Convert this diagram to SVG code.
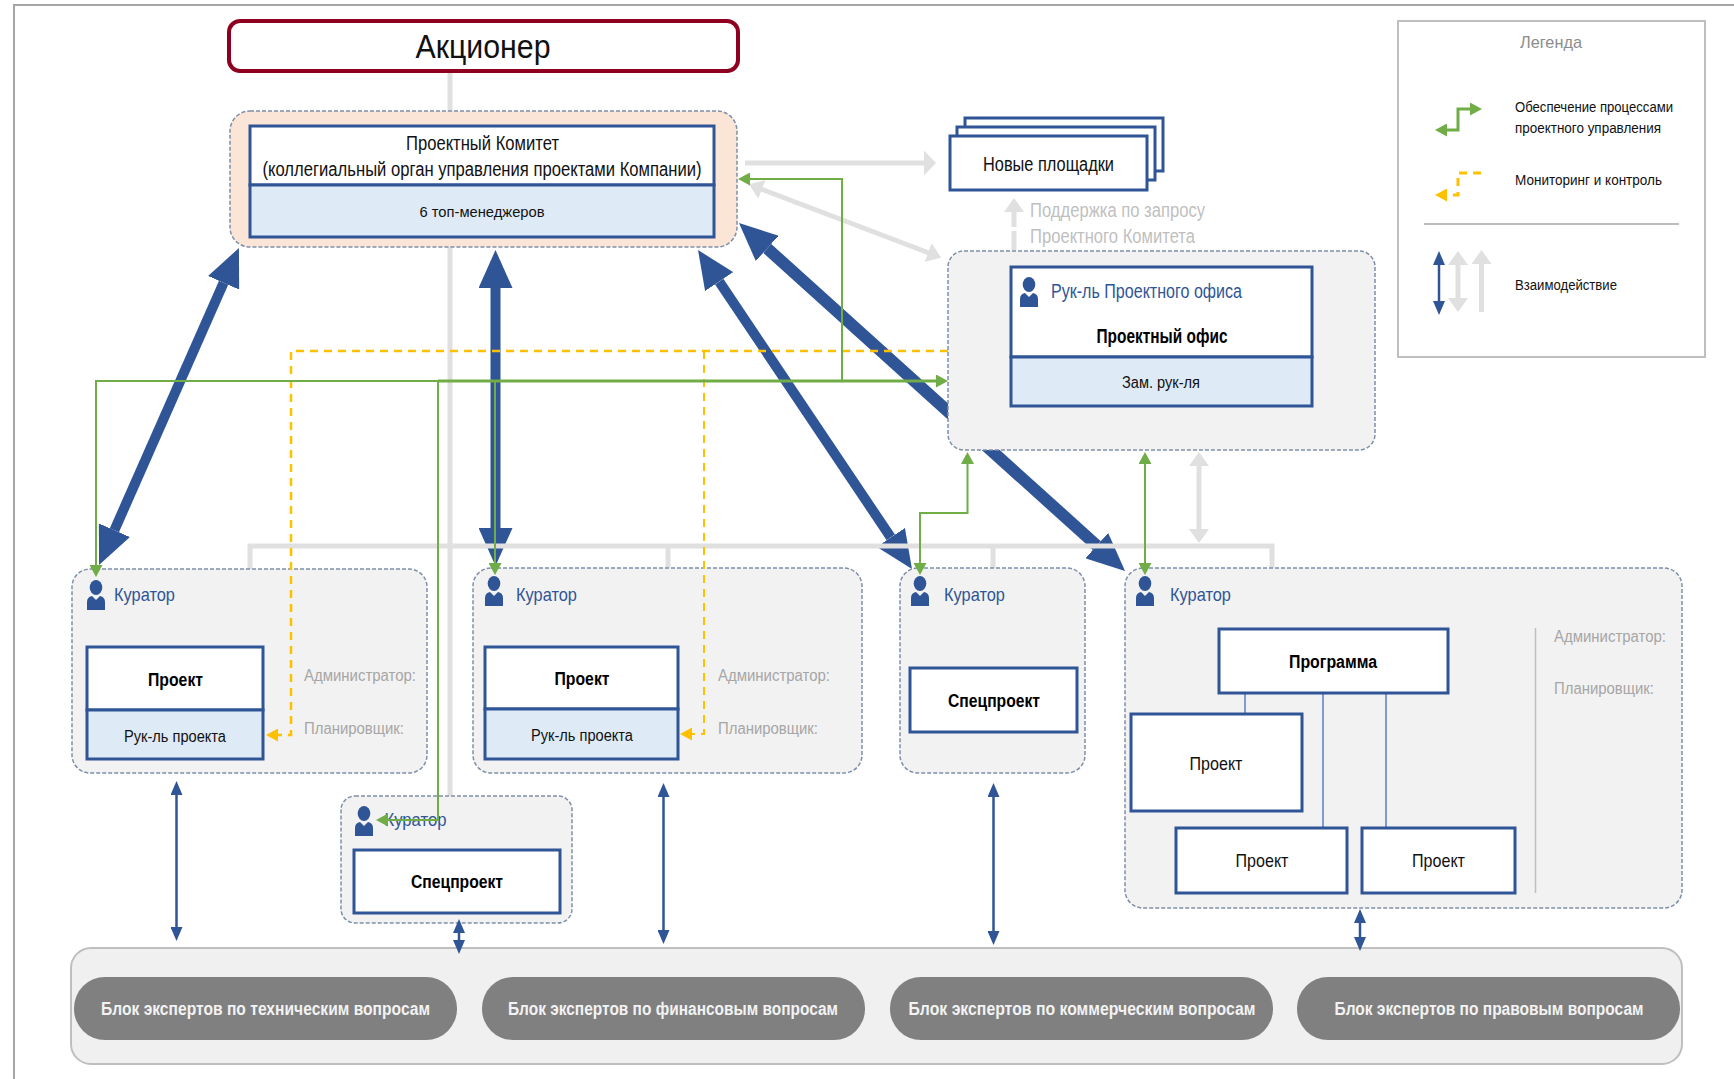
<svg xmlns="http://www.w3.org/2000/svg" xmlns:xlink="http://www.w3.org/1999/xlink" width="1734" height="1079" viewBox="0 0 1734 1079">
<style>
text{font-family:"Liberation Sans",Arial,sans-serif;fill:#111}
.c{text-anchor:middle}
.b{font-weight:bold;fill:#000}
.blue{fill:#2f5597}
.gt{fill:#a6a6a6}
.lt{fill:#bfbfbf}
.w{fill:#f2f2f2;font-weight:bold}
.box{fill:#fff;stroke:#2f5597;stroke-width:3}
.sub{fill:#deeaf6;stroke:#2f5597;stroke-width:3}
.zone{fill:#f2f2f2;stroke:#7f8fa9;stroke-width:1.5;stroke-dasharray:4 2}
.pill{fill:#808080}
.th{fill:none;stroke:#2f5597;stroke-width:10}
.sb{fill:none;stroke:#2f5597;stroke-width:2.5;marker-start:url(#mS);marker-end:url(#mS)}
.gl{fill:none;stroke:#e0e0e0;stroke-width:5}
.gr{fill:none;stroke:#70ad47;stroke-width:2}
.ye{fill:none;stroke:#ffc000;stroke-width:2;stroke-dasharray:8 6;marker-end:url(#mY)}
.tl{fill:none;stroke:#5b80c0;stroke-width:1.5}
</style>
<defs>
<marker id="mT" markerUnits="userSpaceOnUse" viewBox="0 0 38 34" markerWidth="38" markerHeight="34" refX="0" refY="17" orient="auto-start-reverse"><path d="M0 0L38 17L0 34Z" fill="#2f5597"/></marker>
<marker id="mS" markerUnits="userSpaceOnUse" viewBox="0 0 14 12" markerWidth="14" markerHeight="12" refX="1" refY="6" orient="auto-start-reverse"><path d="M0 0L14 6L0 12Z" fill="#2f5597"/></marker>
<marker id="mG" markerUnits="userSpaceOnUse" viewBox="0 0 12 13" markerWidth="12" markerHeight="13" refX="1" refY="6.5" orient="auto-start-reverse"><path d="M0 0L12 6.5L0 13Z" fill="#70ad47"/></marker>
<marker id="mY" markerUnits="userSpaceOnUse" viewBox="0 0 12 13" markerWidth="12" markerHeight="13" refX="1" refY="6.5" orient="auto-start-reverse"><path d="M0 0L12 6.5L0 13Z" fill="#ffc000"/></marker>
<marker id="mL" markerUnits="userSpaceOnUse" viewBox="0 0 14 20" markerWidth="14" markerHeight="20" refX="1" refY="10" orient="auto-start-reverse"><path d="M0 0L14 10L0 20Z" fill="#e0e0e0"/></marker>
<marker id="mH" markerUnits="userSpaceOnUse" viewBox="0 0 12 25" markerWidth="12" markerHeight="25" refX="1" refY="12.5" orient="auto-start-reverse"><path d="M0 0L12 12.5L0 25Z" fill="#e0e0e0"/></marker>
<g id="person"><ellipse cx="0" cy="7.5" rx="6.3" ry="7.5" fill="#2f5597"/><path d="M-9 30V22Q-9 17 -4 16L0 20L4 16Q9 17 9 22V30Z" fill="#2f5597"/></g>
</defs>
<rect width="1734" height="1079" fill="#fff"/>
<path d="M14 1079V5H1734" fill="none" stroke="#a6a6a6" stroke-width="2"/>

<g id="connectors-back">
<path class="th" d="M223.600 282.800L114.400 530.200" marker-start="url(#mT)" marker-end="url(#mT)"/>
<path class="th" d="M495.500 288V528" marker-start="url(#mT)" marker-end="url(#mT)"/>
<path class="th" d="M719.200 281.600L890.800 537.400" marker-start="url(#mT)" marker-end="url(#mT)"/>
<path class="th" style="stroke-width:12" d="M767.200 248.400L1096.800 545.600" marker-start="url(#mT)" marker-end="url(#mT)"/>
<path class="gl" d="M450 72V796M250 569V546H1272V569M668 546V568M993 546V568"/>
<path class="gl" d="M745 163H925" style="marker-end:url(#mH)"/>
<path class="gl" d="M761 189L929 253" style="marker-start:url(#mL);marker-end:url(#mL)"/>
<path class="gl" d="M1014 250V231M1014 227V211" style="marker-end:url(#mL)"/>
<path class="gl" d="M1199 465V530" style="marker-start:url(#mL);marker-end:url(#mL)"/>
</g>

<g id="node-shareholder">
<rect x="229" y="21" width="509" height="50" rx="11" fill="#fff" stroke="#8f0020" stroke-width="4"/>
<text class="c" x="483" y="58" font-size="33" textLength="135" lengthAdjust="spacingAndGlyphs">Акционер</text>
</g>

<g id="node-committee">
<rect class="zone" style="fill:#fbe5d6" x="230" y="111" width="507" height="136" rx="20"/>
<rect class="box" x="250" y="126" width="464" height="59"/>
<rect class="sub" x="250" y="185" width="464" height="52"/>
<text class="c" x="482.500" y="150" font-size="20" textLength="153" lengthAdjust="spacingAndGlyphs">Проектный Комитет</text>
<text class="c" x="482" y="176" font-size="20" textLength="439" lengthAdjust="spacingAndGlyphs">(коллегиальный орган управления проектами Компании)</text>
<text class="c" x="482" y="217" font-size="15" textLength="125" lengthAdjust="spacingAndGlyphs">6 топ-менеджеров</text>
</g>

<g id="node-new-sites">
<rect class="box" x="965" y="118" width="198" height="53"/>
<rect class="box" x="957" y="127" width="198" height="53"/>
<rect class="box" x="950" y="136" width="197" height="54"/>
<text class="c" x="1048.500" y="171" font-size="20" textLength="131" lengthAdjust="spacingAndGlyphs">Новые площадки</text>
</g>

<g id="label-support">
<text class="lt" x="1030" y="217" font-size="20" textLength="175" lengthAdjust="spacingAndGlyphs">Поддержка по запросу</text>
<text class="lt" x="1030" y="243" font-size="20" textLength="165" lengthAdjust="spacingAndGlyphs">Проектного Комитета</text>
</g>

<g id="node-project-office">
<rect class="zone" x="948" y="251" width="427" height="199" rx="16"/>
<rect class="box" x="1011" y="267" width="301" height="90"/>
<rect class="sub" x="1011" y="357" width="301" height="49"/>
<use href="#person" x="1029" y="277"/>
<text class="blue" x="1051" y="298" font-size="20" textLength="191" lengthAdjust="spacingAndGlyphs">Рук-ль Проектного офиса</text>
<text class="c b" x="1162" y="343" font-size="20" textLength="131" lengthAdjust="spacingAndGlyphs">Проектный офис</text>
<text class="c" x="1161" y="388" font-size="16" textLength="78" lengthAdjust="spacingAndGlyphs">Зам. рук-ля</text>
</g>

<g id="node-curator-1">
<rect class="zone" x="72" y="569" width="355" height="204" rx="18"/>
<use href="#person" x="96" y="580"/>
<text class="blue" x="114" y="601" font-size="19" textLength="61" lengthAdjust="spacingAndGlyphs">Куратор</text>
<rect class="box" x="87" y="647" width="176" height="63"/>
<rect class="sub" x="87" y="710" width="176" height="49"/>
<text class="c b" x="175.500" y="686" font-size="19" textLength="55" lengthAdjust="spacingAndGlyphs">Проект</text>
<text class="c" x="175" y="742" font-size="16" textLength="102" lengthAdjust="spacingAndGlyphs">Рук-ль проекта</text>
<text class="gt" x="304" y="681" font-size="16" textLength="112" lengthAdjust="spacingAndGlyphs">Администратор:</text>
<text class="gt" x="304" y="734" font-size="16" textLength="100" lengthAdjust="spacingAndGlyphs">Планировщик:</text>
</g>

<g id="node-curator-2">
<rect class="zone" x="473" y="568" width="389" height="205" rx="18"/>
<use href="#person" x="494" y="576"/>
<text class="blue" x="516" y="601" font-size="19" textLength="61" lengthAdjust="spacingAndGlyphs">Куратор</text>
<rect class="box" x="485" y="647" width="193" height="62"/>
<rect class="sub" x="485" y="709" width="193" height="50"/>
<text class="c b" x="582" y="685" font-size="19" textLength="55" lengthAdjust="spacingAndGlyphs">Проект</text>
<text class="c" x="582" y="741" font-size="16" textLength="102" lengthAdjust="spacingAndGlyphs">Рук-ль проекта</text>
<text class="gt" x="718" y="681" font-size="16" textLength="112" lengthAdjust="spacingAndGlyphs">Администратор:</text>
<text class="gt" x="718" y="734" font-size="16" textLength="100" lengthAdjust="spacingAndGlyphs">Планировщик:</text>
</g>

<g id="node-curator-special-1">
<rect class="zone" x="341" y="796" width="231" height="127" rx="14"/>
<use href="#person" x="364" y="806"/>
<text class="blue" x="384.500" y="826" font-size="19" textLength="62" lengthAdjust="spacingAndGlyphs">Куратор</text>
<rect class="box" x="354" y="850" width="206" height="63"/>
<text class="c b" x="457" y="888" font-size="19" textLength="92" lengthAdjust="spacingAndGlyphs">Спецпроект</text>
</g>

<g id="node-curator-special-2">
<rect class="zone" x="900" y="568" width="185" height="205" rx="18"/>
<use href="#person" x="920" y="576"/>
<text class="blue" x="944" y="601" font-size="19" textLength="61" lengthAdjust="spacingAndGlyphs">Куратор</text>
<rect class="box" x="910" y="668" width="167" height="64"/>
<text class="c b" x="994" y="707" font-size="19" textLength="92" lengthAdjust="spacingAndGlyphs">Спецпроект</text>
</g>

<g id="node-curator-program">
<rect class="zone" x="1125" y="568" width="557" height="340" rx="18"/>
<use href="#person" x="1145" y="576"/>
<text class="blue" x="1170" y="601" font-size="19" textLength="61" lengthAdjust="spacingAndGlyphs">Куратор</text>
<path class="tl" d="M1245 693V714M1323 693V828M1386 690V828"/>
<rect class="box" x="1219" y="629" width="229" height="64"/>
<text class="c b" x="1333" y="668" font-size="18" textLength="88" lengthAdjust="spacingAndGlyphs">Программа</text>
<rect class="box" x="1131" y="714" width="171" height="97"/>
<text class="c" x="1216" y="770" font-size="19" textLength="53" lengthAdjust="spacingAndGlyphs">Проект</text>
<rect class="box" x="1176" y="828" width="171" height="65"/>
<text class="c" x="1262" y="867" font-size="19" textLength="53" lengthAdjust="spacingAndGlyphs">Проект</text>
<rect class="box" x="1362" y="828" width="153" height="65"/>
<text class="c" x="1438.500" y="867" font-size="19" textLength="53" lengthAdjust="spacingAndGlyphs">Проект</text>
<path d="M1535.500 628V893" stroke="#bfbfbf" stroke-width="1.500" fill="none"/>
<text class="gt" x="1554" y="642" font-size="16" textLength="112" lengthAdjust="spacingAndGlyphs">Администратор:</text>
<text class="gt" x="1554" y="694" font-size="16" textLength="100" lengthAdjust="spacingAndGlyphs">Планировщик:</text>
</g>

<g id="node-experts">
<rect x="71" y="948" width="1611" height="116" rx="20" fill="#f0f0f0" stroke="#bfbfbf" stroke-width="2"/>
<rect class="pill" x="74" y="977" width="383" height="63" rx="31"/>
<text class="c w" x="265.500" y="1015" font-size="18" textLength="329" lengthAdjust="spacingAndGlyphs">Блок экспертов по техническим вопросам</text>
<rect class="pill" x="482" y="977" width="383" height="63" rx="31"/>
<text class="c w" x="673" y="1015" font-size="18" textLength="330" lengthAdjust="spacingAndGlyphs">Блок экспертов по финансовым вопросам</text>
<rect class="pill" x="890" y="977" width="383" height="63" rx="31"/>
<text class="c w" x="1082" y="1015" font-size="18" textLength="347" lengthAdjust="spacingAndGlyphs">Блок экспертов по коммерческим вопросам</text>
<rect class="pill" x="1297" y="977" width="383" height="63" rx="31"/>
<text class="c w" x="1489" y="1015" font-size="18" textLength="309" lengthAdjust="spacingAndGlyphs">Блок экспертов по правовым вопросам</text>
</g>

<g id="legend">
<rect x="1398" y="21" width="307" height="336" fill="#fff" stroke="#bfbfbf" stroke-width="2"/>
<text class="c" x="1551" y="48" font-size="17" style="fill:#8c8c8c" textLength="62" lengthAdjust="spacingAndGlyphs">Легенда</text>
<path class="gr" style="stroke-width:3" d="M1446 130H1458V109H1471" marker-start="url(#mG)" marker-end="url(#mG)"/>
<text x="1515" y="112" font-size="14" textLength="158" lengthAdjust="spacingAndGlyphs">Обеспечение процессами</text>
<text x="1515" y="133" font-size="14" textLength="146" lengthAdjust="spacingAndGlyphs">проектного управления</text>
<path class="ye" style="stroke-width:3" d="M1481 173H1458V195H1446"/>
<text x="1515" y="185" font-size="14" textLength="147" lengthAdjust="spacingAndGlyphs">Мониторинг и контроль</text>
<path d="M1424 224H1679" stroke="#a6a6a6" stroke-width="1.500" fill="none"/>
<path class="sb" d="M1439 264V302"/>
<path class="gl" d="M1458 264V299" style="marker-start:url(#mL);marker-end:url(#mL)"/>
<path class="gl" d="M1481.500 312V263" style="marker-end:url(#mL)"/>
<text x="1515" y="290" font-size="14" textLength="102" lengthAdjust="spacingAndGlyphs">Взаимодействие</text>
</g>

<g id="connectors-front">
<path class="sb" d="M176.500 794V928"/>
<path class="sb" d="M663.500 796V931"/>
<path class="sb" d="M993.500 796V932"/>
<path class="sb" d="M459 932V941"/>
<path class="sb" d="M1360 922V938"/>
<path class="ye" style="stroke-width:2.500" d="M948 351H291V735H277"/>
<path class="ye" d="M704 351V734H691"/>
<path class="gr" d="M438 381H96V566" marker-end="url(#mG)"/>
<path class="gr" style="stroke-width:3" d="M438 381H937" marker-end="url(#mG)"/>
<path class="gr" d="M438 381V820H387" marker-end="url(#mG)"/>
<path class="gr" d="M495 381V564" marker-end="url(#mG)"/>
<path class="gr" d="M842 381V179H749" marker-end="url(#mG)"/>
<path class="gr" d="M920 564V513H967.500V463" marker-start="url(#mG)" marker-end="url(#mG)"/>
<path class="gr" d="M1145 463V564" marker-start="url(#mG)" marker-end="url(#mG)"/>
</g>
</svg>
